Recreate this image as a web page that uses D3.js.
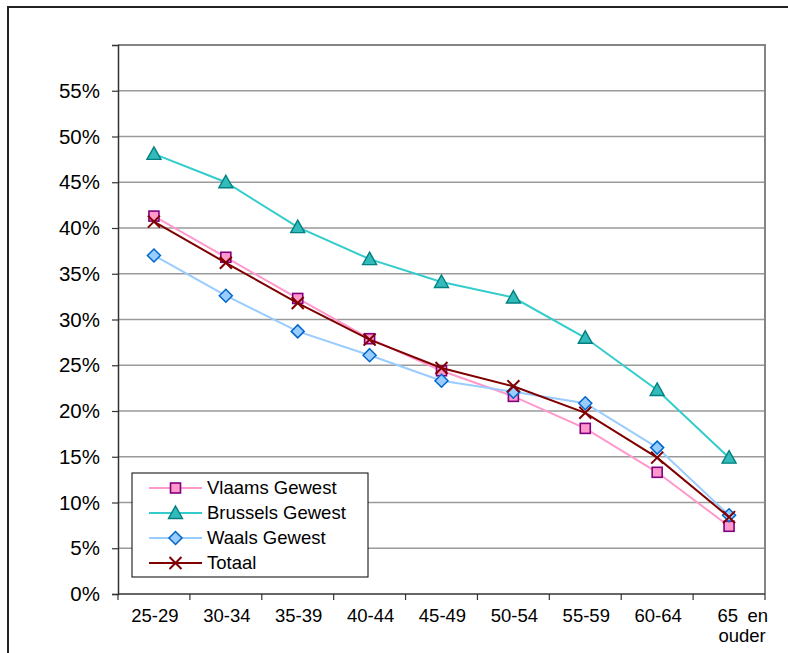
<!DOCTYPE html>
<html>
<head>
<meta charset="utf-8">
<script src="https://cdn.jsdelivr.net/npm/d3@7"></script>
<style>
html,body{margin:0;padding:0;background:#fff;}
svg{display:block;font-family:"Liberation Sans",Arial,sans-serif;}
</style>
</head>
<body>
<svg id="chart" width="788" height="653"></svg>
<script>
const categories = ["25-29","30-34","35-39","40-44","45-49","50-54","55-59","60-64","65 en ouder"];
const vlaams   = [41.3, 36.8, 32.3, 27.9, 24.4, 21.6, 18.1, 13.3, 7.4];
const brussels = [48.1, 45.0, 40.1, 36.6, 34.1, 32.4, 28.0, 22.3, 14.9];
const waals    = [37.0, 32.6, 28.7, 26.1, 23.3, 22.1, 20.85, 16.0, 8.6];
const totaal   = [40.7, 36.2, 31.8, 27.8, 24.7, 22.7, 19.8, 14.9, 8.4];
const seriesNames = ["Vlaams Gewest","Brussels Gewest","Waals Gewest","Totaal"];
const yTicks = [0,5,10,15,20,25,30,35,40,45,50,55];

const series = [
  {name: seriesNames[0], values: vlaams,   line: "#FF99CC", fill: "#FF99CC", stroke: "#800080", marker: "square"},
  {name: seriesNames[1], values: brussels, line: "#33CCCC", fill: "#33BBBB", stroke: "#008080", marker: "triangle"},
  {name: seriesNames[2], values: waals,    line: "#99CCFF", fill: "#99CCFF", stroke: "#0066CC", marker: "diamond"},
  {name: seriesNames[3], values: totaal,   line: "#800000", fill: "none",    stroke: "#800000", marker: "x"}
];

const svg = d3.select("#chart");
const L = 118, R = 765, T = 45, B = 594;

// outer frame (cropped at right/bottom)
svg.append("rect").attr("x", 8).attr("y", 7).attr("width", 800).attr("height", 700)
  .attr("fill", "none").attr("stroke", "#222").attr("stroke-width", 2);

const x = d3.scaleBand().domain(categories).range([L, R]);
const y = d3.scaleLinear().domain([0, 60]).range([B, T]);

// gridlines
svg.append("g").selectAll("line").data(yTicks.filter(d => d > 0)).join("line")
  .attr("x1", L).attr("x2", R).attr("y1", d => y(d)).attr("y2", d => y(d))
  .attr("stroke", "#9a9a9a").attr("stroke-width", 1.3);

// plot border top/right
svg.append("path").attr("d", `M${L},${T}H${R}V${B}`).attr("fill", "none")
  .attr("stroke", "#858585").attr("stroke-width", 2);

// y axis
const yAxis = d3.axisLeft(y).tickValues(yTicks).tickSize(6).tickPadding(12)
  .tickFormat(d => d + "%");
const gy = svg.append("g").attr("transform", `translate(${L},0)`).call(yAxis);
gy.select(".domain").attr("stroke", "#333").attr("stroke-width", 1.5);
gy.selectAll(".tick line").attr("stroke", "#333").attr("stroke-width", 1.2);
gy.selectAll(".tick text").attr("font-size", 20.5).attr("fill", "#000")
  .attr("font-family", "Liberation Sans, Arial, sans-serif");

// x axis
const xTickPos = d3.range(categories.length + 1).map(i => L + i * x.step());
const gx = svg.append("g");
gx.append("line").attr("x1", L).attr("x2", R).attr("y1", B).attr("y2", B)
  .attr("stroke", "#333").attr("stroke-width", 1.5);
gx.selectAll("line.t").data(xTickPos).join("line").attr("class", "t")
  .attr("x1", d => d).attr("x2", d => d).attr("y1", B).attr("y2", B + 6)
  .attr("stroke", "#333").attr("stroke-width", 1.2);
categories.forEach((c, i) => {
  const cx = x(c) + x.bandwidth() / 2;
  if (c.indexOf(" ") < 0) {
    gx.append("text").attr("x", cx + 1).attr("y", 622).attr("text-anchor", "middle")
      .attr("font-size", 18.5).text(c);
  } else {
    const parts = c.split(" ");
    gx.append("text").attr("x", cx - 11.5).attr("y", 622).attr("text-anchor", "start")
      .attr("font-size", 18.5).text(parts[0]);
    gx.append("text").attr("x", cx + 39).attr("y", 622).attr("text-anchor", "end")
      .attr("font-size", 18.5).text(parts[1]);
    gx.append("text").attr("x", cx + 13).attr("y", 642).attr("text-anchor", "middle")
      .attr("font-size", 18.5).text(parts.slice(2).join(" "));
  }
});

function drawMarker(g, type, s) {
  if (type === "square") {
    g.append("rect").attr("x", -5).attr("y", -5).attr("width", 10).attr("height", 10)
      .attr("fill", s.fill).attr("stroke", s.stroke).attr("stroke-width", 1.6);
  } else if (type === "triangle") {
    g.append("path").attr("d", "M0,-7L7,5.5L-7,5.5Z")
      .attr("fill", s.fill).attr("stroke", s.stroke).attr("stroke-width", 1.4);
  } else if (type === "diamond") {
    g.append("path").attr("d", "M0,-6.5L6.5,0L0,6.5L-6.5,0Z")
      .attr("fill", s.fill).attr("stroke", s.stroke).attr("stroke-width", 1.5);
  } else {
    g.append("path").attr("d", "M-6,-6L6,6M-6,6L6,-6")
      .attr("fill", "none").attr("stroke", s.stroke).attr("stroke-width", 2);
  }
}

const line = d3.line().x((d, i) => x(categories[i]) + x.bandwidth() / 2).y(d => y(d));
series.forEach(s => {
  const g = svg.append("g");
  g.append("path").datum(s.values).attr("d", line).attr("fill", "none")
    .attr("stroke", s.line).attr("stroke-width", 2);
  s.values.forEach((v, i) => {
    const m = g.append("g").attr("transform",
      `translate(${x(categories[i]) + x.bandwidth() / 2},${y(v)})`);
    drawMarker(m, s.marker, s);
  });
});

// legend
const lg = svg.append("g");
lg.append("rect").attr("x", 132).attr("y", 473).attr("width", 236).attr("height", 104)
  .attr("fill", "#fff").attr("stroke", "#000").attr("stroke-width", 1);
series.forEach((s, i) => {
  const yy = 488 + i * 25;
  lg.append("line").attr("x1", 149).attr("x2", 202).attr("y1", yy).attr("y2", yy)
    .attr("stroke", s.line).attr("stroke-width", 2);
  const m = lg.append("g").attr("transform", `translate(175.5,${yy})`);
  drawMarker(m, s.marker, s);
  lg.append("text").attr("x", 207).attr("y", yy).attr("dy", "0.35em")
    .attr("font-size", 18.5).text(s.name);
});
</script>
</body>
</html>
